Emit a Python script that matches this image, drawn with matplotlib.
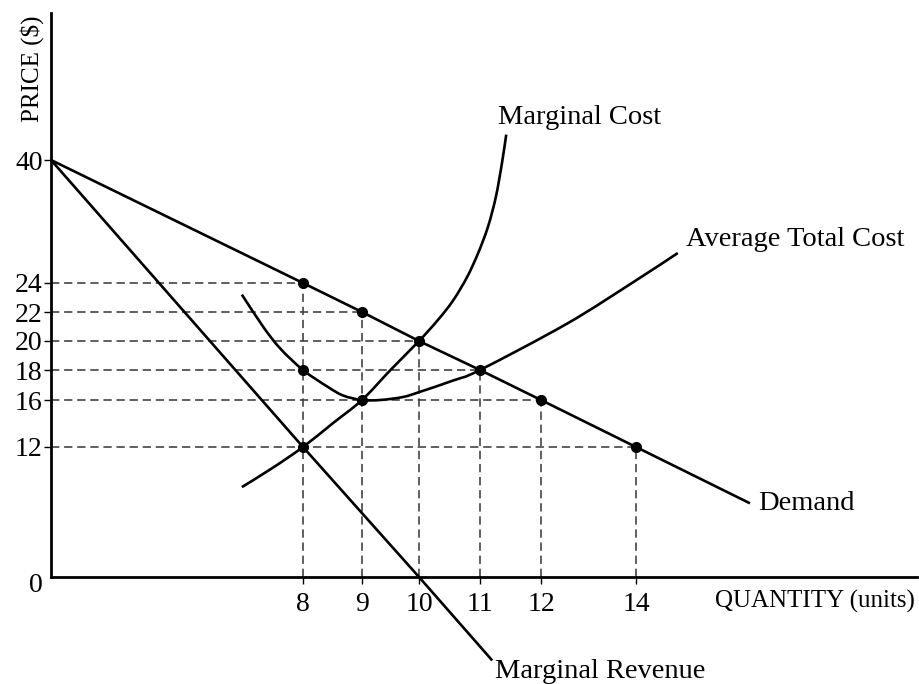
import numpy as np
import matplotlib
matplotlib.use("Agg")
import matplotlib.pyplot as plt
from matplotlib.path import Path
from matplotlib.patches import PathPatch
from matplotlib.transforms import ScaledTranslation

plt.rcParams["font.family"] = ["Liberation Serif", "DejaVu Serif"]

# ---- data ----
quantity_ticks = [8, 9, 10, 11, 12, 14]
price_ticks = [0, 12, 16, 18, 20, 22, 24, 40]

demand_q = [0, 8, 9, 10, 11, 12, 14, 16.4]
demand_p = [40, 24, 22, 20, 18, 16, 12, 6.8]

mr_q = [0, 8, 10, 11.2]
mr_p = [40, 12, 0, -7.7]

mc_q = [6.06, 7.05, 8, 8.5, 9, 9.5, 10, 10.31, 10.56, 10.79, 10.97, 11.13,
        11.26, 11.36, 11.43]
mc_p = [8.3, 10.1, 12, 14.0, 16, 18.0, 20, 21.45, 22.8, 24.8, 27.9, 31.3,
        35.2, 39.6, 43.3]

atc_q = [6.06, 6.73, 7.27, 8, 8.41, 8.68, 9, 9.32, 9.72, 10.02, 10.56, 11,
         12.55, 13.94, 14.88]
atc_p = [23.2, 21.0, 19.5, 18, 16.9, 16.3, 16, 16.0, 16.2, 16.55, 17.3, 18,
         21.2, 24.1, 27.9]

# points marked on the demand curve (also the ends of the dashed guides)
guide_q = [8, 9, 10, 11, 12, 14]
guide_p = [24, 22, 20, 18, 16, 12]

# other marked points (ATC and MC crossings)
extra_q = [8, 9, 8]
extra_p = [18, 16, 12]


# the original is not drawn to scale, so use piecewise linear axes
def piecewise(vals, pos):
    vals = np.asarray(vals, float)
    pos = np.asarray(pos, float)

    def make(a, b):
        lo_slope = (b[1] - b[0]) / (a[1] - a[0])
        hi_slope = (b[-1] - b[-2]) / (a[-1] - a[-2])

        def f(v):
            v = np.asarray(v, float)
            out = np.interp(v, a, b)
            out = np.where(v < a[0], b[0] + (v - a[0]) * lo_slope, out)
            out = np.where(v > a[-1], b[-1] + (v - a[-1]) * hi_slope, out)
            return out
        return f

    return make(vals, pos), make(pos, vals)


x_fwd, x_inv = piecewise([0, 8, 9, 10, 11, 12, 14],
                         [51, 303, 362, 419, 480, 541, 636])
y_fwd, y_inv = piecewise([0, 12, 16, 18, 20, 22, 24, 40],
                         [107, 237, 284, 314, 343, 372, 401, 524])


def smooth_path(q, p):
    """Bezier path through the points (Catmull-Rom in scaled space)."""
    pts = np.column_stack([x_fwd(q), y_fwd(p)])
    n = len(pts)
    verts = [pts[0]]
    codes = [Path.MOVETO]
    for i in range(n - 1):
        p0 = pts[max(i - 1, 0)]
        p1, p2 = pts[i], pts[i + 1]
        p3 = pts[min(i + 2, n - 1)]
        verts += [p1 + (p2 - p0) / 6, p2 - (p3 - p1) / 6, p2]
        codes += [Path.CURVE4] * 3
    verts = np.array(verts)
    data = np.column_stack([x_inv(verts[:, 0]), y_inv(verts[:, 1])])
    return Path(data, codes)


W, H = 919, 684
fig = plt.figure(figsize=(W / 100, H / 100), dpi=100)
ax = fig.add_axes([51 / W, 107 / H, (917 - 51) / W, (671 - 107) / H])
ax.set_xscale("function", functions=(x_fwd, x_inv))
ax.set_yscale("function", functions=(y_fwd, y_inv))
ax.set_xlim(0, float(x_inv(917)))
ax.set_ylim(0, float(y_inv(671)))

# dashed guides
dash = dict(color="#3c3c3c", lw=1.15, dashes=(5.2, 3.0), zorder=1)
for q, p in zip(guide_q, guide_p):
    ax.plot([0, q], [p, p], **dash)
    ax.plot([q, q], [0, p], **dash)

LW = 1.9
line = dict(color="black", lw=LW, solid_capstyle="butt", zorder=3)
ax.plot(demand_q, demand_p, **line)
ax.plot(mr_q, mr_p, clip_on=False, **line)
for q, p in ((mc_q, mc_p), (atc_q, atc_p)):
    ax.add_patch(PathPatch(smooth_path(q, p), fill=False, edgecolor="black",
                           lw=LW, capstyle="butt", zorder=3))

ax.plot(guide_q, guide_p, "o", color="black", ms=7, zorder=4)
ax.plot(extra_q, extra_p, "o", color="black", ms=7, zorder=4)

# curve labels
lab = dict(fontsize=20.5, textcoords="offset pixels", va="center", ha="left")
ax.annotate("Marginal Cost", (mc_q[-1], mc_p[-1]), xytext=(-8, 17), **lab)
ax.annotate("Average Total Cost", (atc_q[-1], atc_p[-1]), xytext=(8, 14), **lab)
ax.annotate("Demand", (demand_q[-1], demand_p[-1]), xytext=(8, 0), **lab)
ax.annotate("Marginal Revenue", (mr_q[-1], mr_p[-1]), xytext=(3, -11),
            annotation_clip=False, **lab)

# axes styling
for side in ("top", "right"):
    ax.spines[side].set_visible(False)
for side in ("left", "bottom"):
    ax.spines[side].set_linewidth(2.0)

ax.set_xticks(quantity_ticks)
ax.set_xticklabels([str(v) for v in quantity_ticks])
ax.set_yticks(price_ticks)
ax.set_yticklabels([str(v) for v in price_ticks])
ax.minorticks_off()
ax.tick_params(axis="both", direction="out", length=5, width=1.0,
               labelsize=20, color="black")
ax.tick_params(axis="x", pad=6)
ax.tick_params(axis="y", pad=1)

# the origin label sits a little below the axis in the original
zero_tick = ax.yaxis.get_major_ticks()[0]
zero_tick.tick1line.set_visible(False)
zero_lbl = zero_tick.label1
zero_lbl.set_transform(zero_lbl.get_transform()
                       + ScaledTranslation(0, -0.06, fig.dpi_scale_trans))

fig.text(32 / W, 1 - 69 / H, "PRICE ($)", rotation=90, ha="center",
         va="center", fontsize=18)
fig.text(715 / W, 1 - 601 / H, "QUANTITY (units)", ha="left", va="center",
         fontsize=18)

fig.savefig("out.png", dpi=100)
